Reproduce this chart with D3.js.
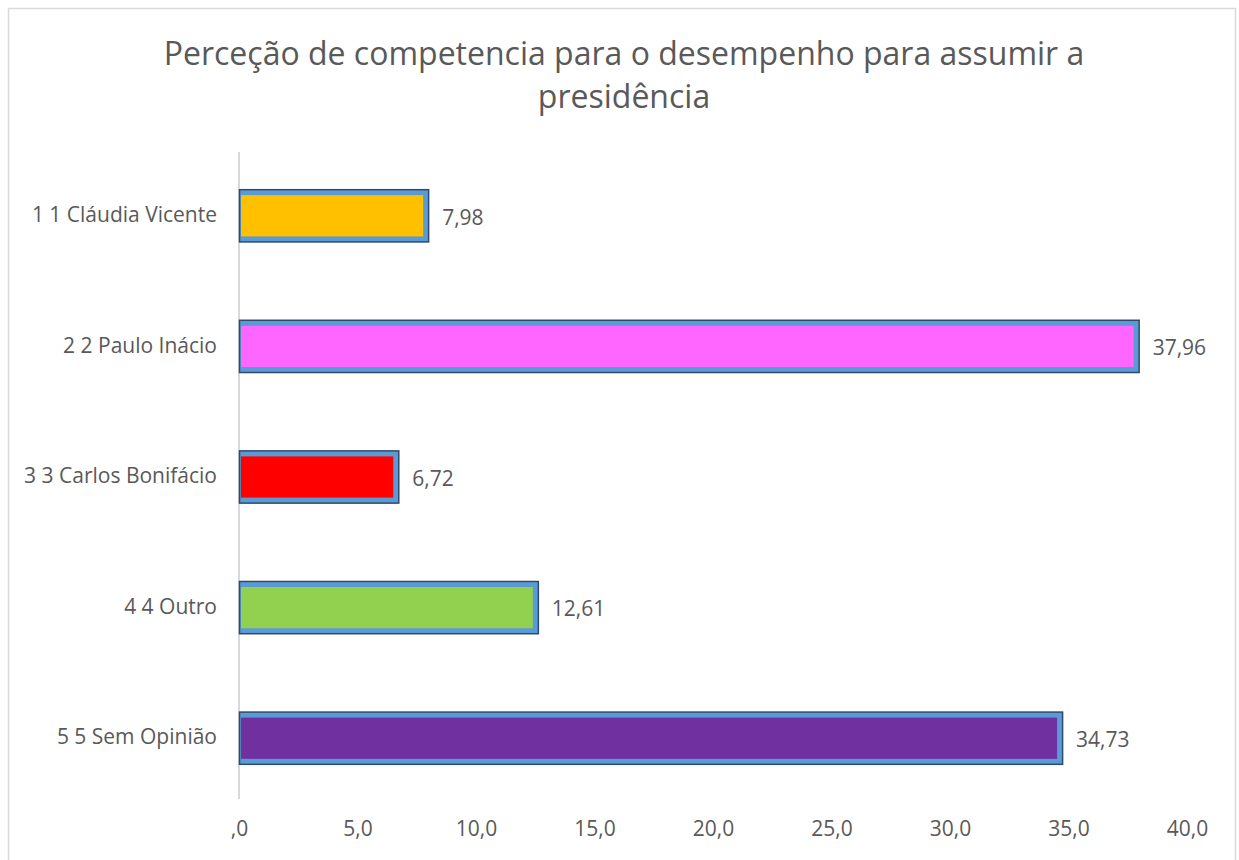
<!DOCTYPE html>
<html lang="pt">
<head>
<meta charset="UTF-8">
<title>Perceção de competencia</title>
<script src="https://d3js.org/d3.v7.min.js"></script>
<style>
  body { margin: 0; background: #ffffff; }
  text { font-family: "Open Sans", "DejaVu Sans", sans-serif; fill: #595959; }
</style>
</head>
<body>
<div id="chart"></div>
<script>
// data
var categories = ["1 1 Cláudia Vicente", "2 2 Paulo Inácio", "3 3 Carlos Bonifácio", "4 4 Outro", "5 5 Sem Opinião"];
var values = [7.98, 37.96, 6.72, 12.61, 34.73];
var valueLabels = ["7,98", "37,96", "6,72", "12,61", "34,73"];
var colors = ["#ffc000", "#ff66ff", "#ff0000", "#92d050", "#7030a0"];
var tickValues = [0, 5, 10, 15, 20, 25, 30, 35, 40];
var tickLabels = [",0", "5,0", "10,0", "15,0", "20,0", "25,0", "30,0", "35,0", "40,0"];

var W = 1239, H = 860;
var margin = {top: 150, right: 52, bottom: 57, left: 239},
    width = W - margin.left - margin.right,
    height = H - margin.top - margin.bottom;

var svg = d3.select("#chart").append("svg")
    .attr("width", W)
    .attr("height", H);

// chart border
svg.append("rect")
  .attr("x", 8.5).attr("y", 8.5)
  .attr("width", 1227).attr("height", 870)
  .attr("fill", "none").attr("stroke", "#d9d9d9").attr("stroke-width", 1.5);

// title (two lines)
var title = svg.append("text")
  .attr("text-anchor", "middle")
  .style("font-size", "32px");
title.append("tspan").attr("x", 624).attr("y", 65).text("Perceção de competencia para o desempenho para assumir a");
title.append("tspan").attr("x", 624).attr("y", 108).text("presidência");

var g = svg.append("g")
  .attr("transform", "translate(" + margin.left + "," + margin.top + ")");

var x = d3.scaleLinear().domain([0, 40]).range([0, width]);
var y = d3.scaleBand().domain(categories).range([0, 653])
  .paddingInner(0.6).paddingOuter(0.3);

// x tick labels
var xAxis = g.append("g")
  .attr("transform", "translate(0," + height + ")")
  .call(d3.axisBottom(x).tickValues(tickValues)
        .tickFormat(function(d, i) { return tickLabels[i]; })
        .tickSize(0).tickPadding(18));
xAxis.select(".domain").remove();
xAxis.selectAll("text").style("font-size", "21px").style("fill", "#595959")
  .style("font-family", "'Open Sans', sans-serif");

// y axis labels
var yAxis = g.append("g")
  .call(d3.axisLeft(y).tickSize(0).tickPadding(22));
yAxis.select(".domain").remove();
yAxis.selectAll("text").style("font-size", "21px").style("fill", "#595959")
  .style("font-family", "'Open Sans', sans-serif");

// vertical axis line
g.append("line")
  .attr("x1", x(0)).attr("x2", x(0))
  .attr("y1", 2).attr("y2", height - 4)
  .attr("stroke", "#d9d9d9").attr("stroke-width", 2);

var data = categories.map(function(c, i) {
  return {cat: c, v: values[i], lab: valueLabels[i], col: colors[i]};
});

var bars = g.selectAll(".bar").data(data).enter().append("g").attr("class", "bar");

// outer frame (blue border with dark edge)
bars.append("rect")
  .attr("x", x(0) + 0.5)
  .attr("y", function(d) { return y(d.cat) + 0.5; })
  .attr("width", function(d) { return x(d.v) - x(0); })
  .attr("height", y.bandwidth())
  .attr("fill", "#5b9bd5")
  .attr("stroke", "#2e4a6e")
  .attr("stroke-width", 1.5);

// inner fill
bars.append("rect")
  .attr("x", x(0) + 2)
  .attr("y", function(d) { return y(d.cat) + 6; })
  .attr("width", function(d) { return Math.max(0, x(d.v) - x(0) - 7); })
  .attr("height", y.bandwidth() - 11)
  .attr("fill", function(d) { return d.col; });

// value labels
bars.append("text")
  .attr("x", function(d) { return x(d.v) + 14; })
  .attr("y", function(d) { return y(d.cat) + y.bandwidth() / 2 + 2; })
  .attr("dy", "0.35em")
  .style("font-size", "21px")
  .text(function(d) { return d.lab; });
</script>
</body>
</html>
